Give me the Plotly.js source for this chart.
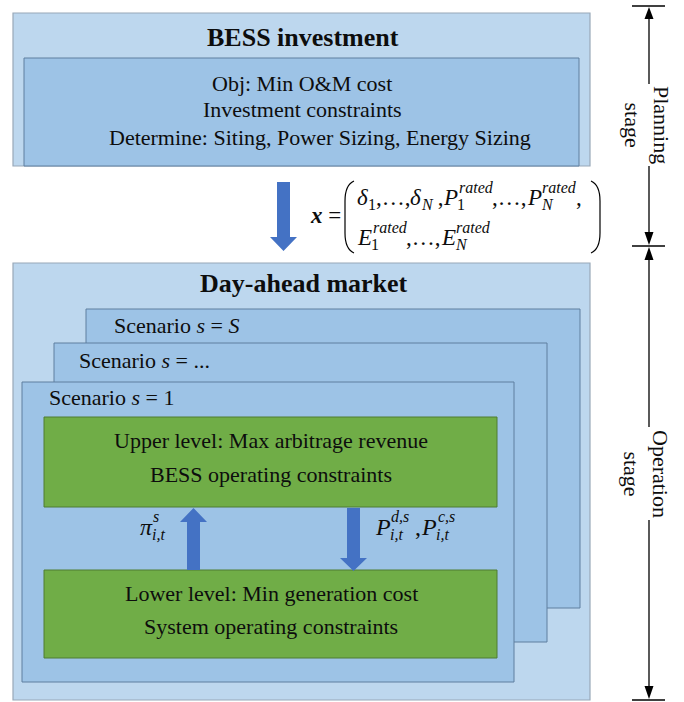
<!DOCTYPE html>
<html>
<head>
<meta charset="utf-8">
<script src="https://cdn.plot.ly/plotly-3.0.1.min.js"></script>
<style>html,body{margin:0;padding:0;background:#fff;}#chart{width:684px;height:702px;}</style>
</head>
<body>
<div id="chart"></div>
<script>
// ---- content (text) ----
const stageTitles = ["BESS investment", "Day-ahead market"];
const investmentLines = ["Obj: Min O&amp;M cost", "Investment constraints", "Determine: Siting, Power Sizing, Energy Sizing"];
const scenarioLabels = ["Scenario <i>s</i> = <i>S</i>", "Scenario <i>s</i> = ...", "Scenario <i>s</i> = 1"];
const upperLines = ["Upper level: Max arbitrage revenue", "BESS operating constraints"];
const lowerLines = ["Lower level: Min generation cost", "System operating constraints"];
const stageLabels = ["Planning<br>stage", "Operation<br>stage"];
const vectorName = "<b><i>x</i></b> =";
// math tokens: [base, subscript, superscript]
const vectorRow1 = [["δ", "1", ""], [",…,", "", ""], ["δ", "N", ""], [" ,", "", ""], ["P", "1", "rated"], [",…,", "", ""], ["P", "N", "rated"], [",", "", ""]];
const vectorRow2 = [["E", "1", "rated"], [",…,", "", ""], ["E", "N", "rated"]];
const priceLabel = [["π", "i,t", "s"]];
const powerLabel = [["P", "i,t", "d,s"], [" ,", "", ""], ["P", "i,t", "c,s"]];

// ---- styles ----
const LIGHT = "#BDD7EE", MID = "#9DC3E6", GREEN = "#70AD47", ARROW = "#4472C4";
const OUTER_LINE = "#98A8B8", MID_LINE = "#5F7F9F", GREEN_LINE = "#4E7D33";
const FONT = "Liberation Serif";
const TXT = "#0d0d0d";

function rect(x0, y0, x1, y1, fill, lc, lw) {
  return {type: "rect", xref: "x", yref: "y", x0, y0, x1, y1, fillcolor: fill, line: {color: lc, width: lw}};
}
function blockArrowDown(sx0, sx1, yTop, yBase, yTip, hx0, hx1) {
  const cx = (hx0 + hx1) / 2;
  return {type: "path", xref: "x", yref: "y", fillcolor: ARROW, line: {width: 0},
    path: `M${sx0},${yTop} L${sx1},${yTop} L${sx1},${yBase} L${hx1},${yBase} L${cx},${yTip} L${hx0},${yBase} L${sx0},${yBase} Z`};
}
function seg(x0, y0, x1, y1) {
  return {type: "line", xref: "x", yref: "y", x0, y0, x1, y1, line: {color: "#000", width: 1.3}};
}
function tri(x, tipY, baseY) {
  return {type: "path", xref: "x", yref: "y", fillcolor: "#000", line: {width: 0},
    path: `M${x},${tipY} L${x + 4.5},${baseY} L${x - 4.5},${baseY} Z`};
}
function ann(text, x, y, size, opts) {
  return Object.assign({text, x, y, xref: "x", yref: "y", showarrow: false,
    xanchor: "center", yanchor: "middle", font: {family: FONT, size, color: TXT}}, opts || {});
}

// text measurement for stacked sub/superscripts
const ctx = document.createElement("canvas").getContext("2d");
const isItalic = s => /[A-Za-zδπ]/.test(s);
function measure(s, size) {
  ctx.font = (isItalic(s) ? "italic " : "") + size + "px '" + FONT + "'";
  return ctx.measureText(s).width;
}
function styled(s) { return isItalic(s) ? "<i>" + s + "</i>" : s; }
function rowWidth(tokens, bs, ss) {
  return tokens.reduce((w, t) => w + measure(t[0], bs) + Math.max(t[1] ? measure(t[1], ss) : 0, t[2] ? measure(t[2], ss) + 1.5 : 0), 0);
}
function mathRow(tokens, x, y, bs, ss, out) {
  const p = {xanchor: "left", borderpad: 0, borderwidth: 0};
  tokens.forEach(t => {
    out.push(ann(styled(t[0]), x, y, bs, p));
    const sx = x + measure(t[0], bs);
    let w = 0;
    if (t[1]) { out.push(ann(styled(t[1]), sx, y + bs * 0.32, ss, p)); w = measure(t[1], ss); }
    if (t[2]) { out.push(ann(styled(t[2]), sx + 1.5, y - bs * 0.42, ss, p)); w = Math.max(w, measure(t[2], ss) + 1.5); }
    x = sx + w;
  });
}

const shapes = [
  rect(13, 13, 590, 166, LIGHT, OUTER_LINE, 1.2),
  rect(24, 58, 579, 166, MID, MID_LINE, 1),
  rect(13, 263, 590, 700, LIGHT, OUTER_LINE, 1.2),
  rect(86, 309, 580, 608, MID, MID_LINE, 1),
  rect(54, 343, 547, 642, MID, MID_LINE, 1),
  rect(22, 382, 514, 682, MID, MID_LINE, 1),
  rect(44, 417, 497, 507, GREEN, GREEN_LINE, 1),
  rect(44, 570, 497, 658, GREEN, GREEN_LINE, 1),
  blockArrowDown(277, 290, 182, 237, 251, 270, 297),
  blockArrowDown(347, 360, 508, 558, 571, 340, 367),
  {type: "path", xref: "x", yref: "y", fillcolor: ARROW, line: {width: 0},
    path: "M187,570 L200,570 L200,522 L207,522 L193.5,508 L180,522 L187,522 Z"},
  {type: "path", xref: "x", yref: "y", line: {color: "#000", width: 1.2},
    path: "M354,181 Q345,185 345,201 L345,233 Q345,249 354,253"},
  {type: "path", xref: "x", yref: "y", line: {color: "#000", width: 1.2},
    path: "M591,181 Q600,185 600,201 L600,233 Q600,249 591,253"},
  seg(632, 6, 665, 6), seg(632, 246, 665, 246), seg(632, 700, 665, 700),
  seg(649, 16, 649, 84), tri(649, 7, 19),
  seg(649, 166, 649, 234), tri(649, 245, 232),
  seg(649, 258, 649, 427), tri(649, 247, 260),
  seg(649, 520, 649, 688), tri(649, 699, 686)
];

const annotations = [
  ann("<b>" + stageTitles[0] + "</b>", 303, 37, 26),
  ann(investmentLines[0], 302, 83, 22),
  ann(investmentLines[1], 302, 109, 22),
  ann(investmentLines[2], 320, 137, 22),
  ann("<b>" + stageTitles[1] + "</b>", 304, 283, 26),
  ann(scenarioLabels[0], 112, 325, 22, {xanchor: "left"}),
  ann(scenarioLabels[1], 77, 360, 22, {xanchor: "left"}),
  ann(scenarioLabels[2], 47, 397, 22, {xanchor: "left"}),
  ann(upperLines[0], 271, 440, 22),
  ann(upperLines[1], 271, 474, 22),
  ann(lowerLines[0], 271, 593, 22),
  ann(lowerLines[1], 271, 626, 22),
  ann(vectorName, 325, 215, 23),
  ann(stageLabels[0], 647, 125, 22, {textangle: 90}),
  ann(stageLabels[1], 646, 474, 22, {textangle: 90})
];
mathRow(vectorRow1, 357, 197, 23, 16, annotations);
mathRow(vectorRow2, 357, 237, 23, 16, annotations);
mathRow(priceLabel, 152 - rowWidth(priceLabel, 24, 16) / 2, 527, 24, 16, annotations);
mathRow(powerLabel, 375, 527, 24, 16, annotations);

const layout = {
  width: 684, height: 702,
  margin: {l: 0, r: 0, t: 0, b: 0},
  paper_bgcolor: "#ffffff", plot_bgcolor: "#ffffff",
  font: {family: FONT, color: TXT},
  showlegend: false,
  xaxis: {range: [0, 684], visible: false, fixedrange: true},
  yaxis: {range: [702, 0], visible: false, fixedrange: true},
  shapes, annotations
};

Plotly.newPlot("chart", [{x: [], y: [], type: "scatter", hoverinfo: "skip"}], layout, {staticPlot: true, displayModeBar: false});
</script>
</body>
</html>
